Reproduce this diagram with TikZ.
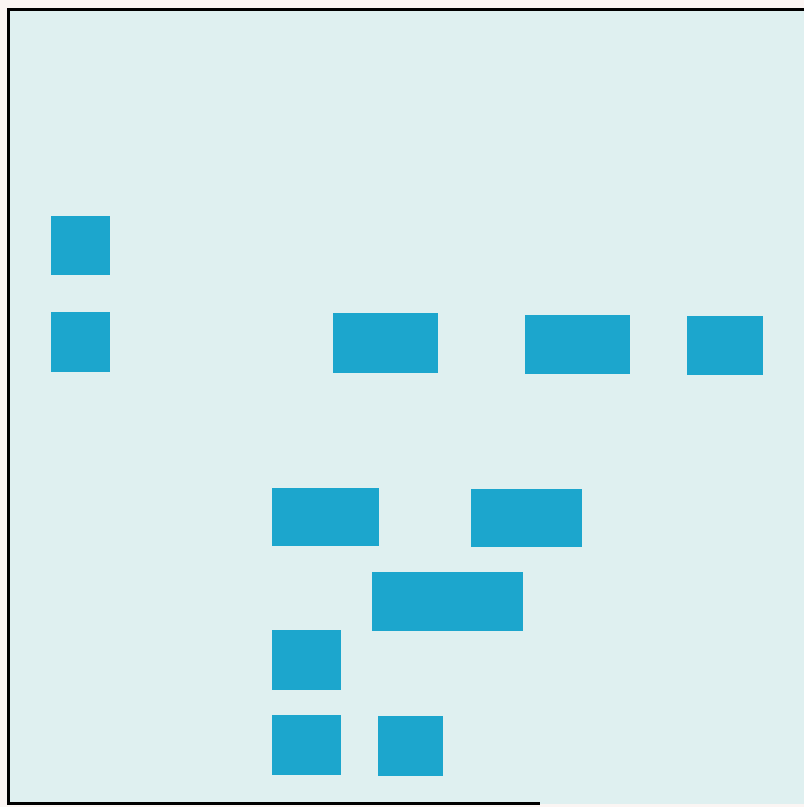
\documentclass[tikz,border=0pt]{standalone}
\usepackage{xcolor}
\usepackage{tikz}
\definecolor{paper}{HTML}{FBF5F3}
\definecolor{panel}{HTML}{DFF0F0}
\definecolor{blockblue}{HTML}{1CA6CD}
\tikzset{block/.style={fill=blockblue}}

\begin{document}
\begin{tikzpicture}[x=0.025cm,y=-0.025cm]
  % page and panel
  \fill[paper] (0,0) rectangle (804,807);
  \useasboundingbox (0,0) rectangle (804,807);
  \fill[panel] (9,10) rectangle (804,804);
  \draw[line width=2.2pt] (804,9.5) -- (8.5,9.5) -- (8.5,803.5) -- (540,803.5);
  % left column
  \fill[block] (51,216) rectangle (110,275);
  \fill[block] (51,312) rectangle (110,372);
  % middle row
  \fill[block] (333,313) rectangle (438,373);
  \fill[block] (525,315) rectangle (630,374);
  \fill[block] (687,316) rectangle (763,375);
  % lower group
  \fill[block] (272,488) rectangle (379,546);
  \fill[block] (471,489) rectangle (582,547);
  \fill[block] (372,572) rectangle (523,631);
  \fill[block] (272,630) rectangle (341,690);
  \fill[block] (272,715) rectangle (341,775);
  \fill[block] (378,716) rectangle (443,776);
\end{tikzpicture}
\end{document}
